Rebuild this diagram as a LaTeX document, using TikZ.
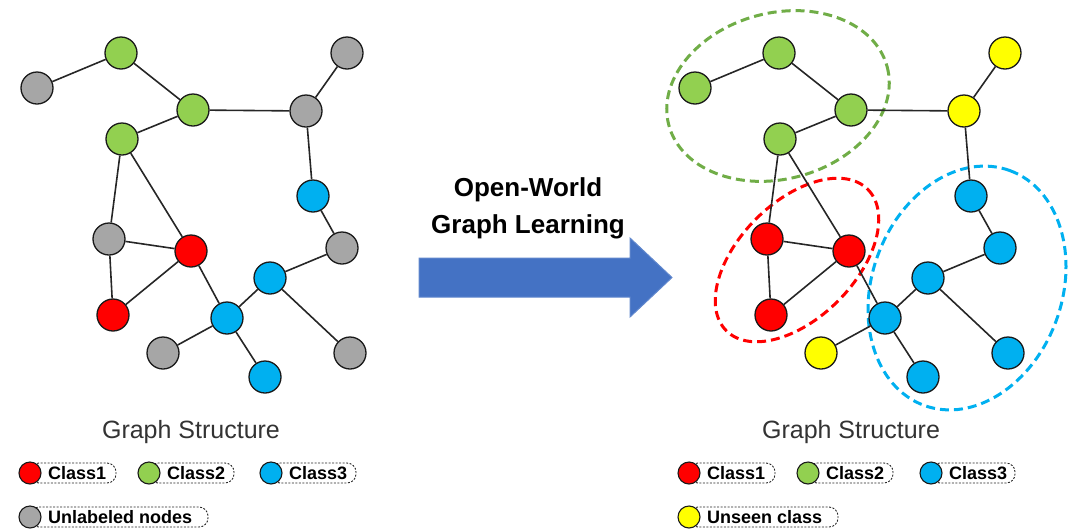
\documentclass[tikz,border=0pt]{standalone}
\usepackage{fontspec}
\setmainfont{Liberation Sans}
\usepackage{tikz}

\definecolor{cOne}{HTML}{FF0000}
\definecolor{cTwo}{HTML}{92D050}
\definecolor{cThree}{HTML}{00B0F0}
\definecolor{cGray}{HTML}{A6A6A6}
\definecolor{cNew}{HTML}{FFFF00}
\definecolor{cRing}{HTML}{70AD47}
\definecolor{cArrow}{HTML}{4472C4}

\begin{document}
\begin{tikzpicture}[x=1pt,y=-1pt,
  vtx/.style={circle, draw=black!90, line width=1.3pt, minimum size=32pt, inner sep=0pt},
  keydot/.style={circle, draw=black!90, line width=1.1pt, minimum size=22pt, inner sep=0pt},
  keybox/.style={draw=black!85, line width=0.9pt, dash pattern=on 2pt off 1.5pt, rounded corners=9pt},
  keytext/.style={anchor=west, inner sep=0pt, font=\bfseries\fontsize{18}{20}\selectfont},
  link/.style={line width=1.6pt, black!85},
  ring/.style={line width=3pt, dash pattern=on 9pt off 5pt}]

\useasboundingbox (0,0) rectangle (1076,528);

\draw [ring, cRing] (778,96) ellipse [x radius=113, y radius=83, rotate=15];
\draw [ring, cOne] (797,260) ellipse [x radius=100, y radius=58, rotate=45];
\draw [ring, cThree] (967,288) ellipse [x radius=125, y radius=95, rotate=70];

\node[vtx, fill=cGray] (lA) at (37,88) {};
\node[vtx, fill=cTwo] (lB) at (121,53) {};
\node[vtx, fill=cTwo] (lC) at (193,110) {};
\node[vtx, fill=cTwo] (lD) at (122,139) {};
\node[vtx, fill=cGray] (lE) at (347,53) {};
\node[vtx, fill=cGray] (lF) at (306,111) {};
\node[vtx, fill=cThree] (lG) at (313,196) {};
\node[vtx, fill=cGray] (lH) at (342,248) {};
\node[vtx, fill=cGray] (lI) at (109,239) {};
\node[vtx, fill=cOne] (lJ) at (191,251) {};
\node[vtx, fill=cOne] (lK) at (113,315) {};
\node[vtx, fill=cThree] (lL) at (270,278) {};
\node[vtx, fill=cThree] (lM) at (227,318) {};
\node[vtx, fill=cGray] (lN) at (163,353) {};
\node[vtx, fill=cThree] (lO) at (265,377) {};
\node[vtx, fill=cGray] (lP) at (350,353) {};

\draw [link] (lA) -- (lB) -- (lC) -- (lD) -- (lI) -- (lK) -- (lJ) -- (lM) -- (lL) -- (lH) -- (lG) -- (lF) -- (lE);
\draw [link] (lC) -- (lF);
\draw [link] (lD) -- (lJ) -- (lI);
\draw [link] (lL) -- (lP);
\draw [link] (lN) -- (lM) -- (lO);

\node[vtx, fill=cTwo] (rA) at (695,88) {};
\node[vtx, fill=cTwo] (rB) at (779,53) {};
\node[vtx, fill=cTwo] (rC) at (851,110) {};
\node[vtx, fill=cTwo] (rD) at (780,139) {};
\node[vtx, fill=cNew] (rE) at (1005,53) {};
\node[vtx, fill=cNew] (rF) at (964,111) {};
\node[vtx, fill=cThree] (rG) at (971,196) {};
\node[vtx, fill=cThree] (rH) at (1000,248) {};
\node[vtx, fill=cOne] (rI) at (767,239) {};
\node[vtx, fill=cOne] (rJ) at (849,251) {};
\node[vtx, fill=cOne] (rK) at (771,315) {};
\node[vtx, fill=cThree] (rL) at (928,278) {};
\node[vtx, fill=cThree] (rM) at (885,318) {};
\node[vtx, fill=cNew] (rN) at (821,353) {};
\node[vtx, fill=cThree] (rO) at (923,377) {};
\node[vtx, fill=cThree] (rP) at (1008,353) {};

\draw [link] (rA) -- (rB) -- (rC) -- (rD) -- (rI) -- (rK) -- (rJ) -- (rM) -- (rL) -- (rH) -- (rG) -- (rF) -- (rE);
\draw [link] (rC) -- (rF);
\draw [link] (rD) -- (rJ) -- (rI);
\draw [link] (rL) -- (rP);
\draw [link] (rN) -- (rM) -- (rO);

\fill [cArrow, draw=cArrow!85!white, line width=1pt] (419,258) -- (630,258) -- (630,238) -- (672,277.5) -- (630,317) -- (630,297) -- (419,297) -- cycle;
\node[align=center, font=\bfseries\fontsize{26}{37}\selectfont] (title) at (528,208) {Open-World\\Graph Learning};

\node[font=\fontsize{25}{28}\selectfont, text=black!80] (capL) at (191,432) {Graph Structure};
\node[font=\fontsize{25}{28}\selectfont, text=black!80] (capR) at (851,432) {Graph Structure};

\draw [keybox] (30,463) rectangle (116,483);
\node[keydot, fill=cOne] (kLa) at (30,473) {};
\node[keytext] (tLa) at (48,473) {Class1};
\draw [keybox] (149,463) rectangle (234,483);
\node[keydot, fill=cTwo] (kLb) at (149,473) {};
\node[keytext] (tLb) at (167,473) {Class2};
\draw [keybox] (271,463) rectangle (356,483);
\node[keydot, fill=cThree] (kLc) at (271,473) {};
\node[keytext] (tLc) at (289,473) {Class3};
\draw [keybox] (30,507) rectangle (208,527);
\node[keydot, fill=cGray] (kLd) at (30,517) {};
\node[keytext] (tLd) at (48,517) {Unlabeled nodes};

\draw [keybox] (689,463) rectangle (775,483);
\node[keydot, fill=cOne] (kRa) at (689,473) {};
\node[keytext] (tRa) at (707,473) {Class1};
\draw [keybox] (808,463) rectangle (893,483);
\node[keydot, fill=cTwo] (kRb) at (808,473) {};
\node[keytext] (tRb) at (826,473) {Class2};
\draw [keybox] (931,463) rectangle (1015,483);
\node[keydot, fill=cThree] (kRc) at (931,473) {};
\node[keytext] (tRc) at (949,473) {Class3};
\draw [keybox] (689,507) rectangle (838,527);
\node[keydot, fill=cNew] (kRd) at (689,517) {};
\node[keytext] (tRd) at (707,517) {Unseen class};

\end{tikzpicture}
\end{document}
